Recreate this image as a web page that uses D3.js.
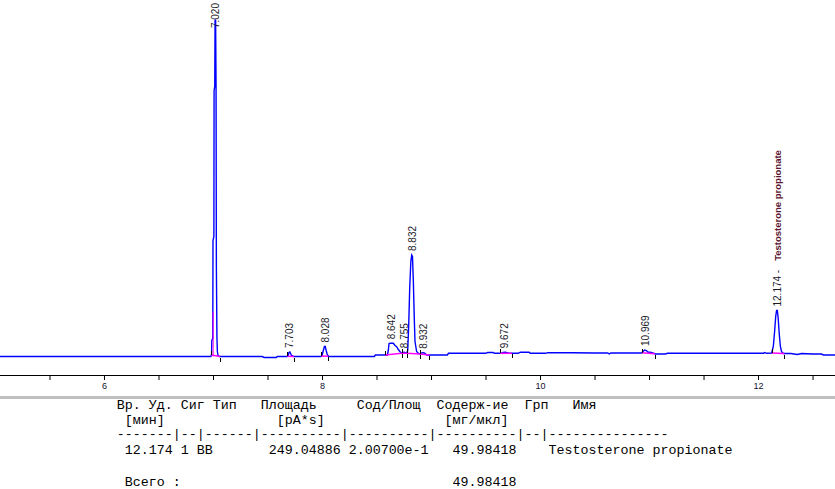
<!DOCTYPE html>
<html><head><meta charset="utf-8">
<script src="https://cdn.jsdelivr.net/npm/d3@7"></script>
<style>body{margin:0;background:#fff}svg{display:block}</style>
</head><body><svg id="c" width="835" height="489"></svg>
<script>
// ---- data (time in min, signal in pA) ----
const trace = [
 [5.046,0],[6.5,0],[6.98,0],[6.987,2],[6.989,16],[6.998,18],[7.0,116],[7.008,120],[7.01,266],[7.016,270],
 [7.019,337],[7.024,336],[7.028,270],[7.031,90],[7.036,20],[7.04,5],[7.046,1],[7.06,0],
 [7.45,0],[7.47,-1],[7.58,-1],[7.59,0],
 [7.68,0],[7.69,1],[7.697,4],[7.705,4.5],[7.712,3],[7.72,1],[7.74,0],
 [7.99,0],[8.0,1],[8.012,6],[8.022,10],[8.03,10],[8.038,6],[8.048,2],[8.06,0],
 [8.48,0],[8.49,1.5],[8.6,1.5],[8.608,6],[8.615,13],[8.624,13.2],[8.654,13.2],[8.67,11],[8.685,9.8],
 [8.7,7],[8.716,4.8],[8.731,3.2],[8.746,4],[8.755,4.3],[8.765,3.5],[8.777,3.2],[8.786,6],[8.795,30],
 [8.805,70],[8.815,95],[8.823,101.5],[8.83,100],[8.838,75],[8.846,40],[8.853,15],[8.868,5],[8.884,3.2],
 [8.9,2.5],[8.915,3.5],[8.932,3.8],[8.945,3.2],[8.96,1.5],[9.15,1.5],[9.16,3.2],
 [9.5,3.2],[9.52,4],[9.57,4],[9.58,3.2],[9.64,3.2],[9.66,4],[9.68,4.2],[9.7,3.8],[9.72,3.2],
 [9.8,3.2],[9.82,4.3],[9.9,4.3],[9.91,3.2],[10.05,3.2],[10.07,3.8],[10.3,3.8],[10.5,3.5],
 [10.62,3.5],[10.635,2.6],[10.65,3.5],[10.93,3.5],[10.945,5],[10.96,6.5],[10.975,6],[10.99,4.5],
 [11.02,4],[11.06,2.5],[11.15,2.5],[11.17,3.2],[11.5,3.2],[11.8,3.2],[11.9,3.2],
 [12.05,3.2],[12.06,4],[12.08,3.2],[12.125,3.5],[12.14,10],[12.152,25],[12.162,40],[12.17,46],
 [12.177,46],[12.185,38],[12.195,22],[12.205,10],[12.215,5],[12.232,3],[12.3,3],[12.36,2],
 [12.4,3],[12.5,2.5],[12.58,2.5],[12.6,1.5],[12.706,1.5]
];
const peakRT    = [7.020, 7.703, 8.028, 8.642, 8.755, 8.832, 8.932, 9.672, 10.969, 12.174];
const peakStart = [6.985, 7.682, 7.995, 8.578, 8.731, 8.777, 8.899, 9.633, 10.933, 12.125];
const peakEnd   = [7.065, 7.743, 8.058, 8.731, 8.777, 8.899, 8.984, 9.740, 11.055, 12.241];
const peakNames = ["","","","","","","","","","Testosterone propionate"];
const axisTicks = [5.5,6,6.5,7,7.5,8,8.5,9,9.5,10,10.5,11,11.5,12,12.5];
const axisLabels = [6,8,10,12];
const tableLines = [
 "Вр. Уд. Сиг Тип   Площадь     Сод/Площ  Содерж-ие  Грп   Имя",
 " [мин]              [pA*s]               [мг/мкл]",
 "-------|--|------|----------|----------|----------|--|---------------",
 " 12.174 1 BB       249.04886 2.00700e-1   49.98418    Testosterone propionate"
];
const totalLine = " Всего :                                  49.98418";

// ---- drawing ----
const svg = d3.select("#c");
svg.append("rect").attr("width",835).attr("height",489).attr("fill","#fff");
const x = d3.scaleLinear().domain([5.046,12.706]).range([0,835]);
const y = d3.scaleLinear().domain([0,340]).range([356.5,16.5]);

const bis = d3.bisector(d=>d[0]).left;
function valueAt(t){
  const i = bis(trace,t);
  if(i<=0) return trace[0][1];
  if(i>=trace.length) return trace[trace.length-1][1];
  const a=trace[i-1], b=trace[i];
  return a[1]+(b[1]-a[1])*(t-a[0])/(b[0]-a[0]);
}

// axis
const ax = svg.append("g").attr("transform","translate(0,375)")
  .call(d3.axisBottom(x).tickValues(axisTicks).tickSizeInner(5).tickSizeOuter(0)
    .tickFormat(d=>axisLabels.includes(d)?d3.format("d")(d):""));
ax.select(".domain").attr("stroke","#000").attr("d","M0,0.5H835");
ax.selectAll(".tick line").attr("stroke","#000");
ax.selectAll(".tick text").attr("font-family","Liberation Sans, Arial, sans-serif").attr("font-size",9).attr("fill","#101030");

// trace
const line = d3.line().x(d=>x(d[0])).y(d=>y(d[1]));
svg.append("path").datum(trace).attr("d",line).attr("fill","none")
  .attr("stroke","#0000ff").attr("stroke-width",1.4).attr("stroke-linejoin","miter");

// drop line at the main peak
svg.append("line").attr("x1",x(peakRT[0])-2).attr("x2",x(peakRT[0])-2)
  .attr("y1",y(0)).attr("y2",y(45)).attr("stroke","#ff00ff").attr("stroke-width",1);

// integration baselines
peakRT.forEach((rt,i)=>{
  const s=peakStart[i], e=peakEnd[i];
  svg.append("line").attr("x1",x(s)).attr("y1",y(valueAt(s))).attr("x2",x(e)).attr("y2",y(valueAt(e)))
    .attr("stroke","#ff00ff").attr("stroke-width",1.5);
});
// event ticks
peakRT.forEach((rt,i)=>{
  const s=peakStart[i], e=peakEnd[i];
  const ys=Math.round(y(valueAt(s))), ye=Math.round(y(valueAt(e)));
  svg.append("line").attr("x1",Math.round(x(s))+0.5).attr("x2",Math.round(x(s))+0.5)
    .attr("y1",ys).attr("y2",ys-4).attr("stroke","#000").attr("stroke-width",1);
  svg.append("line").attr("x1",Math.round(x(e))+0.5).attr("x2",Math.round(x(e))+0.5)
    .attr("y1",ye+1).attr("y2",ye+5).attr("stroke","#000").attr("stroke-width",1);
});

// peak labels
peakRT.forEach((rt,i)=>{
  const near = trace.filter(d=>d[0]>=rt-0.015 && d[0]<=rt+0.015);
  const apex = d3.max(near,d=>d[1]) ?? valueAt(rt);
  const t = svg.append("text").attr("font-family","Liberation Sans, Arial, sans-serif")
    .attr("font-size",10).attr("fill","#1a1a2a").attr("dy","0.35em");
  t.append("tspan").text(d3.format(".3f")(rt) + (peakNames[i]?" -":""));
  if(peakNames[i]) t.append("tspan").attr("dx",9).attr("font-size",9.5).attr("font-weight","bold")
      .attr("fill","#5a1530").text(peakNames[i]);
  const len = t.node().getComputedTextLength();
  const start = Math.max(y(apex)-4, 3+len);
  t.attr("transform",`translate(${x(rt)},${start}) rotate(-90)`);
});

// separator
svg.append("rect").attr("x",0).attr("y",396).attr("width",835).attr("height",3).attr("fill","#c0c0c0");

// table
const rowY = [409, 423.5, 438, 453.5];
const tbl = svg.append("g").attr("font-family","Liberation Mono, Courier New, monospace")
  .attr("font-size","13.33px").attr("fill","#000").style("white-space","pre");
tableLines.forEach((s,i)=>tbl.append("text").attr("x",116.7).attr("y",rowY[i]).attr("xml:space","preserve").text(s));
tbl.append("text").attr("x",116.7).attr("y",486).attr("xml:space","preserve").text(totalLine);
</script></body></html>
